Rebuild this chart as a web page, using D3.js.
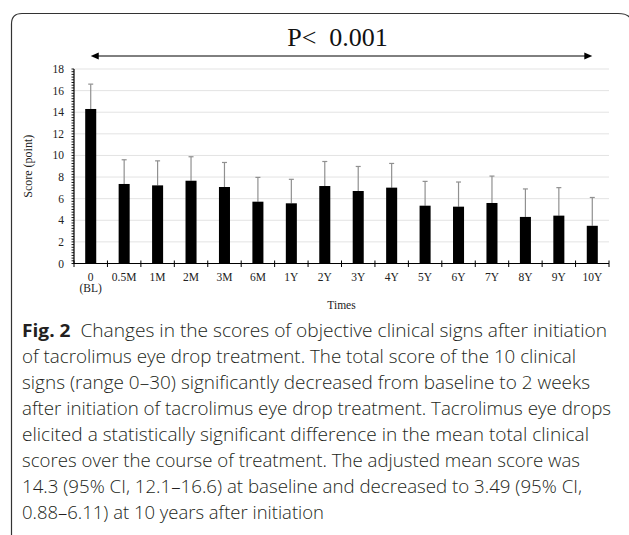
<!DOCTYPE html>
<html><head><meta charset="utf-8">
<script src="https://cdn.jsdelivr.net/npm/d3@7"></script>
<style>html,body{margin:0;padding:0;background:#fff;}svg{display:block;}</style>
</head><body>
<svg id="chart" width="629" height="535"></svg>
<script>
const categories = ["0","0.5M","1M","2M","3M","6M","1Y","2Y","3Y","4Y","5Y","6Y","7Y","8Y","9Y","10Y"];
const means = [14.3,7.36,7.23,7.66,7.08,5.72,5.57,7.17,6.71,7.02,5.35,5.26,5.6,4.31,4.43,3.49];
const upper = [16.6,9.6,9.5,9.88,9.35,7.97,7.79,9.44,8.98,9.26,7.6,7.54,8.09,6.9,7.02,6.11];
const yTicks = [0,2,4,6,8,10,12,14,16,18];
const titleText = "P<\u00a0 0.001";
const xTitle = "Times";
const yTitle = "Score (point)";
const captionBold = "Fig. 2";
const captionLines = [
  "Changes in the scores of objective clinical signs after initiation",
  "of tacrolimus eye drop treatment. The total score of the 10 clinical",
  "signs (range 0\u201330) significantly decreased from baseline to 2 weeks",
  "after initiation of tacrolimus eye drop treatment. Tacrolimus eye drops",
  "elicited a statistically significant difference in the mean total clinical",
  "scores over the course of treatment. The adjusted mean score was",
  "14.3 (95% CI, 12.1\u201316.6) at baseline and decreased to 3.49 (95% CI,",
  "0.88\u20136.11) at 10 years after initiation"
];
const captionEnds = [607,576,590,611,589,580,582,324];

(function(){
const svg = d3.select("#chart");
const serif = "'Liberation Serif','Times New Roman',serif";

// frame
svg.append("path")
  .attr("d","M11.5,545 L11.5,24 Q11.5,13.5 22,13.5 L618,13.5 Q629,13.5 631,20")
  .attr("fill","none").attr("stroke","#333").attr("stroke-width",1.2);

const pLeft = 74, pRight = 609, pTop = 69, pBottom = 263.5;
const x = d3.scaleBand().domain(categories).range([pLeft,pRight]).paddingInner(0.67).paddingOuter(0.335);
const xb = d3.scaleBand().domain(categories).range([pLeft,pRight]);
const y = d3.scaleLinear().domain([0,18]).range([pBottom,pTop]);

// gridlines
svg.append("g").selectAll("line").data(yTicks.filter(d=>d>0)).join("line")
  .attr("x1",pLeft).attr("x2",pRight).attr("y1",d=>y(d)).attr("y2",d=>y(d))
  .attr("stroke","#e3e3e3").attr("stroke-width",1);

// error bars
const eb = svg.append("g");
categories.forEach((c,i)=>{
  const cx = x(c)+x.bandwidth()/2;
  eb.append("line").attr("x1",cx).attr("x2",cx).attr("y1",y(means[i])).attr("y2",y(upper[i]))
    .attr("stroke","#909090").attr("stroke-width",1.2);
  eb.append("line").attr("x1",cx-2.5).attr("x2",cx+2.5).attr("y1",y(upper[i])).attr("y2",y(upper[i]))
    .attr("stroke","#909090").attr("stroke-width",1.2);
});

// bars
svg.append("g").selectAll("rect").data(categories).join("rect")
  .attr("x",d=>x(d)).attr("width",x.bandwidth())
  .attr("y",(d,i)=>y(means[i])).attr("height",(d,i)=>y(0)-y(means[i]))
  .attr("fill","#000");

// y axis with minor ticks
const yAxis = svg.append("g").attr("transform",`translate(${pLeft},0)`);
yAxis.append("line").attr("x1",0).attr("x2",0).attr("y1",pTop).attr("y2",pBottom).attr("stroke","#000").attr("stroke-width",1.2);
const minor = d3.range(0,18.01,0.25);
yAxis.selectAll("line.minor").data(minor).join("line").attr("class","minor")
  .attr("x1",-2.5).attr("x2",0).attr("y1",d=>y(d)).attr("y2",d=>y(d)).attr("stroke","#000").attr("stroke-width",0.9);
yAxis.selectAll("text").data(yTicks).join("text")
  .attr("x",-10).attr("y",d=>y(d)).attr("dy","0.35em").attr("text-anchor","end")
  .attr("font-family",serif).attr("font-size",11.5).attr("fill","#222").text(d=>d);

// x axis
const xAxis = svg.append("g");
xAxis.append("line").attr("x1",pLeft).attr("x2",pRight).attr("y1",pBottom).attr("y2",pBottom).attr("stroke","#000").attr("stroke-width",1.2);
const tickPos = categories.map(c=>xb(c)).concat([pRight]);
xAxis.selectAll("line.tk").data(tickPos).join("line").attr("class","tk")
  .attr("x1",d=>d).attr("x2",d=>d).attr("y1",pBottom-3).attr("y2",pBottom+3.5).attr("stroke","#000").attr("stroke-width",1);
xAxis.selectAll("text.lab").data(categories).join("text").attr("class","lab")
  .attr("x",d=>x(d)+x.bandwidth()/2).attr("y",281).attr("text-anchor","middle")
  .attr("font-family",serif).attr("font-size",11.5).attr("fill","#222").text(d=>d);
xAxis.append("text").attr("x",x(categories[0])+x.bandwidth()/2).attr("y",292).attr("text-anchor","middle")
  .attr("font-family",serif).attr("font-size",11.5).attr("fill","#222").text("(BL)");

// axis titles
svg.append("text").attr("x",(pLeft+pRight)/2).attr("y",309).attr("text-anchor","middle")
  .attr("font-family",serif).attr("font-size",11.5).attr("fill","#222").text(xTitle);
svg.append("text").attr("transform",`translate(32,${(pTop+pBottom)/2}) rotate(-90)`).attr("text-anchor","middle")
  .attr("font-family",serif).attr("font-size",12).attr("fill","#222").text(yTitle);

// title and arrow
const ax1 = x(categories[0])+x.bandwidth()/2, ax2 = x(categories[categories.length-1])+x.bandwidth()/2;
svg.append("text").attr("x",(ax1+ax2)/2-4).attr("y",46).attr("text-anchor","middle")
  .attr("font-family",serif).attr("font-size",26).attr("fill","#111").text(titleText);
svg.append("line").attr("x1",ax1+6).attr("x2",ax2-6).attr("y1",56).attr("y2",56).attr("stroke","#000").attr("stroke-width",1);
svg.append("path").attr("d",`M${ax1},56 L${ax1+8},52.5 L${ax1+8},59.5 Z`).attr("fill","#000");
svg.append("path").attr("d",`M${ax2},56 L${ax2-8},52.5 L${ax2-8},59.5 Z`).attr("fill","#000");

// caption
const capFont = "'Open Sans','Noto Sans',sans-serif";
const cap = svg.append("g").attr("font-family",capFont).attr("font-size",18.5).attr("font-weight",300).attr("fill","#231f20");
captionLines.forEach((line,i)=>{
  const yy = 337 + i*26;
  const t = cap.append("text").attr("x",22).attr("y",yy)
    .attr("textLength",captionEnds[i]-22).attr("lengthAdjust","spacingAndGlyphs");
  if(i===0){
    t.append("tspan").attr("font-weight","bold").text(captionBold+"\u00a0 ");
    t.append("tspan").text(line);
  } else {
    t.text(line);
  }
});
})();
</script>
</body></html>
